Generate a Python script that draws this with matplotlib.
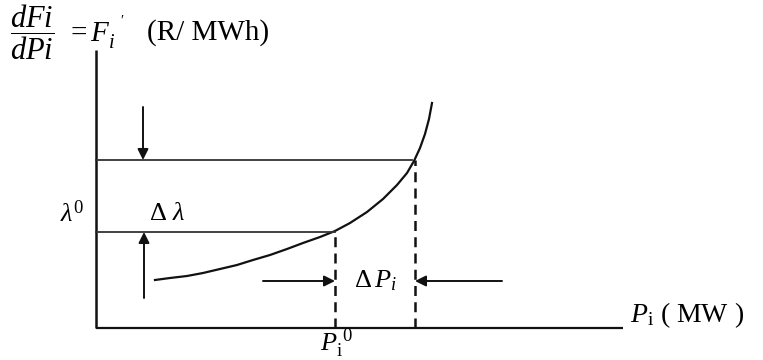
import matplotlib
matplotlib.use("Agg")
import matplotlib.pyplot as plt

plt.rcParams["mathtext.fontset"] = "custom"
plt.rcParams["mathtext.rm"] = "Liberation Serif"
plt.rcParams["mathtext.it"] = "Liberation Serif:italic"
plt.rcParams["font.family"] = "Liberation Serif"

# Incremental cost curve F_i'(P_i), arbitrary units (P in MW, lambda in R/MWh)
curve_P = [59, 74, 91, 107, 124, 141, 157, 174, 191, 207, 224, 239,
           254, 271, 287, 301, 311, 318, 324, 329, 333, 336]
curve_lam = [48, 50, 52, 55, 59, 63, 68, 73, 79, 85, 91, 97,
             105, 116, 129, 143, 155, 167, 180, 194, 209, 225]

# Operating points
P0, P1 = 239, 319          # P_i^0 and P_i^0 + dP_i
lam0, lam1 = 96, 168       # lambda^0 and lambda^0 + d lambda
P_max, lam_max = 527, 278  # extent of the axes

fig = plt.figure(figsize=(7.63, 3.6), dpi=100)
ax = fig.add_axes([0, 0, 1, 1])
ax.set_xlim(-96, 667)
ax.set_ylim(-32, 328)
ax.axis("off")

ink = "#111111"

# Axes
ax.plot([0, 0], [0, lam_max], color=ink, lw=1.8, solid_capstyle="butt")
ax.plot([0, P_max], [0, 0], color=ink, lw=1.6, solid_capstyle="butt")

# Cost curve
ax.plot(curve_P, curve_lam, color=ink, lw=1.6, solid_joinstyle="round")

# Horizontal levels
ax.plot([0, P0], [lam0, lam0], color="#333333", lw=1.3)
ax.plot([0, P1 - 3], [lam1, lam1], color="#333333", lw=1.3)

# Dashed verticals
ax.plot([P0, P0], [0, lam0], color=ink, lw=1.8, dashes=(4, 2.5))
ax.plot([P1, P1], [0, lam1], color=ink, lw=1.8, dashes=(4, 2.5))

arrow = dict(arrowstyle="-|>", color=ink, lw=1.4, mutation_scale=16,
             shrinkA=0, shrinkB=0)
# d lambda arrows
ax.annotate("", xy=(47, lam1), xytext=(47, lam1 + 53), arrowprops=arrow)
ax.annotate("", xy=(48, lam0), xytext=(48, lam0 - 66), arrowprops=arrow)
# dP arrows
ax.annotate("", xy=(P0, 47), xytext=(P0 - 72, 47), arrowprops=arrow)
ax.annotate("", xy=(P1, 47), xytext=(P1 + 87, 47), arrowprops=arrow)

fs = 19
ax.text(-24, lam0 + 18, r"$\lambda^{0}$", fontsize=fs, ha="center", va="center")
ax.text(71, lam0 + 18, r"$\Delta\ \lambda$", fontsize=fs, ha="center", va="center")
ax.text(P0 + 40, 47, r"$\Delta\, P_i$", fontsize=fs, ha="center", va="center")
ax.text(P0 + 2, -23, r"$P_{\mathrm{i}}^{\ 0}$", fontsize=fs, ha="center",
        va="baseline")
ax.text(P_max + 7, 13, r"$P_{\mathrm{i}}$ ( MW )", fontsize=20, ha="left",
        va="center")

# Ordinate label
ax.text(-64, 296, r"$\dfrac{dFi}{dPi}$", fontsize=22, ha="center", va="center")
ax.text(-30, 295, r"$= F_i^{\ \ '}$", fontsize=21, ha="left", va="center")
ax.text(51, 295, "(R/ MWh)", fontsize=21, ha="left", va="center")

fig.savefig("out.png", dpi=100, facecolor="white")
